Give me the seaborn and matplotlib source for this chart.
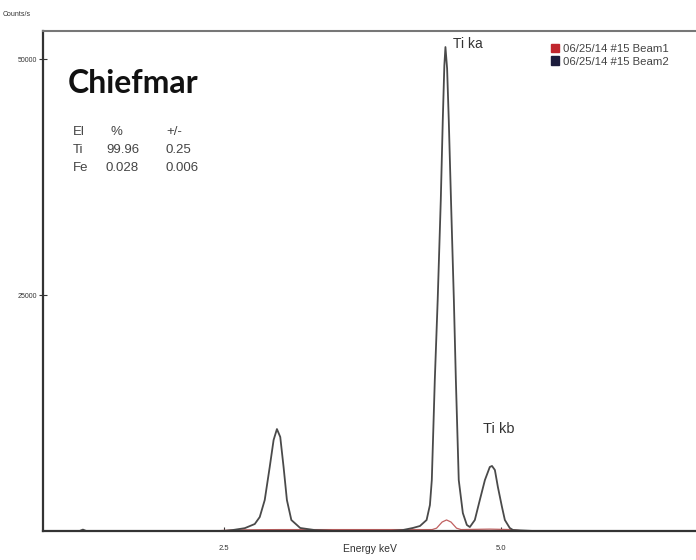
import numpy as np
import pandas as pd
import matplotlib
matplotlib.use("Agg")
import matplotlib.pyplot as plt
import seaborn as sns
from matplotlib.patches import Patch

sns.set_theme(style="white")
plt.rcParams["font.family"] = ["Liberation Sans", "DejaVu Sans"]

# spectrum (energy in keV, counts/s)
beam2_kev = [0.87, 1.20, 1.23, 1.26, 2.50, 2.58, 2.69, 2.78, 2.825, 2.87, 2.915,
             2.95, 2.98, 3.01, 3.04, 3.07, 3.11, 3.19, 3.32, 3.50, 4.00, 4.115,
             4.206, 4.27, 4.33, 4.36, 4.377, 4.404, 4.43, 4.458, 4.476, 4.49, 4.50,
             4.515, 4.53, 4.55, 4.576, 4.594, 4.62, 4.657, 4.693, 4.72, 4.765, 4.81,
             4.856, 4.90, 4.92, 4.946, 4.973, 5.01, 5.036, 5.08, 5.11, 5.30, 6.76]
beam2_cps = [0, 0, 150, 0, 0, 100, 300, 740, 1480, 3280, 6780,
             9640, 10800, 9960, 6780, 3280, 1165, 320, 100, 0, 0, 100,
             320, 530, 1165, 2750, 5400, 16000, 24470, 35060, 43540, 49300, 51270,
             49000, 43540, 35060, 24470, 16000, 5400, 1900, 640, 420, 1165, 3280,
             5400, 6780, 6890, 6460, 4660, 2540, 1165, 320, 100, 0, 0]

beam1_kev = [2.40, 2.60, 3.00, 4.38, 4.42, 4.47, 4.51, 4.55, 4.60, 4.64, 4.90, 5.10, 5.20]
beam1_cps = [0, 120, 150, 150, 300, 950, 1170, 950, 300, 150, 200, 150, 0]

legend_labels = ["06/25/14 #15 Beam1", "06/25/14 #15 Beam2"]
legend_colors = ["#c0262d", "#1c1c3c"]

table_rows = [["El", "%", "+/-"], ["Ti", "99.96", "0.25"], ["Fe", "0.028", "0.006"]]

df2 = pd.DataFrame({"keV": beam2_kev, "cps": beam2_cps})
df1 = pd.DataFrame({"keV": beam1_kev, "cps": beam1_cps})

fig = plt.figure(figsize=(6.96, 5.6), dpi=100)
ax = fig.add_axes([43 / 696, 1 - 531 / 560, 1 - 43 / 696, 500 / 560])

sns.lineplot(data=df1, x="keV", y="cps", ax=ax, color="#c06060", lw=0.9, sort=False)
sns.lineplot(data=df2, x="keV", y="cps", ax=ax, color="#4a4a4a", lw=1.3, sort=False)

ax.set_xlim(0.87, 6.76)
ax.set_ylim(0, 52970)
ax.set_xticks([2.5, 5.0])
ax.set_xticklabels(["2.5", "5.0"])
ax.set_yticks([25000, 50000])
ax.set_yticklabels(["25000", "50000"])
ax.tick_params(axis="x", direction="in", length=3, width=0.8, pad=10,
               labelsize=5.5, colors="#333333", bottom=True)
ax.tick_params(axis="y", direction="inout", length=6, width=0.8, pad=1,
               labelsize=5, colors="#333333", left=True)
ax.set_xlabel("Energy keV", fontsize=7.5, color="#333333", labelpad=-6)
ax.set_ylabel("")

for side in ["left", "bottom"]:
    ax.spines[side].set_color("#333333")
    ax.spines[side].set_linewidth(1.6)
ax.spines["top"].set_color("#777777")
ax.spines["top"].set_linewidth(1.5)
ax.spines["right"].set_visible(False)

fig.text(3 / 696, 1 - 15 / 560, "Counts/s", fontsize=5, color="#333333", va="center")

ax.text(0.038, 0.895, "Chiefmar", transform=ax.transAxes, fontsize=23,
        fontweight="bold", family=["Lato", "DejaVu Sans"], color="#111111", va="center")

col_x = [73, 106, 166]
row_y = [132, 150, 168]
for r, row in enumerate(table_rows):
    for c, cell in enumerate(row):
        ha = "center" if (r == 0 and c == 1) else "left"
        x = 116 if (r == 0 and c == 1) else col_x[c]
        fig.text(x / 696, 1 - row_y[r] / 560, cell, fontsize=9.5,
                 color="#444444", ha=ha, va="center")

ax.text(4.565, 51600, "Ti ka", fontsize=10, color="#333333", va="center")
ax.text(4.84, 10800, "Ti kb", fontsize=10.5, color="#333333", va="center")

handles = [Patch(facecolor=c, edgecolor=c) for c in legend_colors]
ax.legend(handles, legend_labels, loc="upper left", bbox_to_anchor=(0.762, 0.995),
          frameon=False, fontsize=8.2, handlelength=0.75, handleheight=0.8,
          handletextpad=0.3, labelspacing=0.2, labelcolor="#444444")

fig.savefig("out.png", dpi=100)
